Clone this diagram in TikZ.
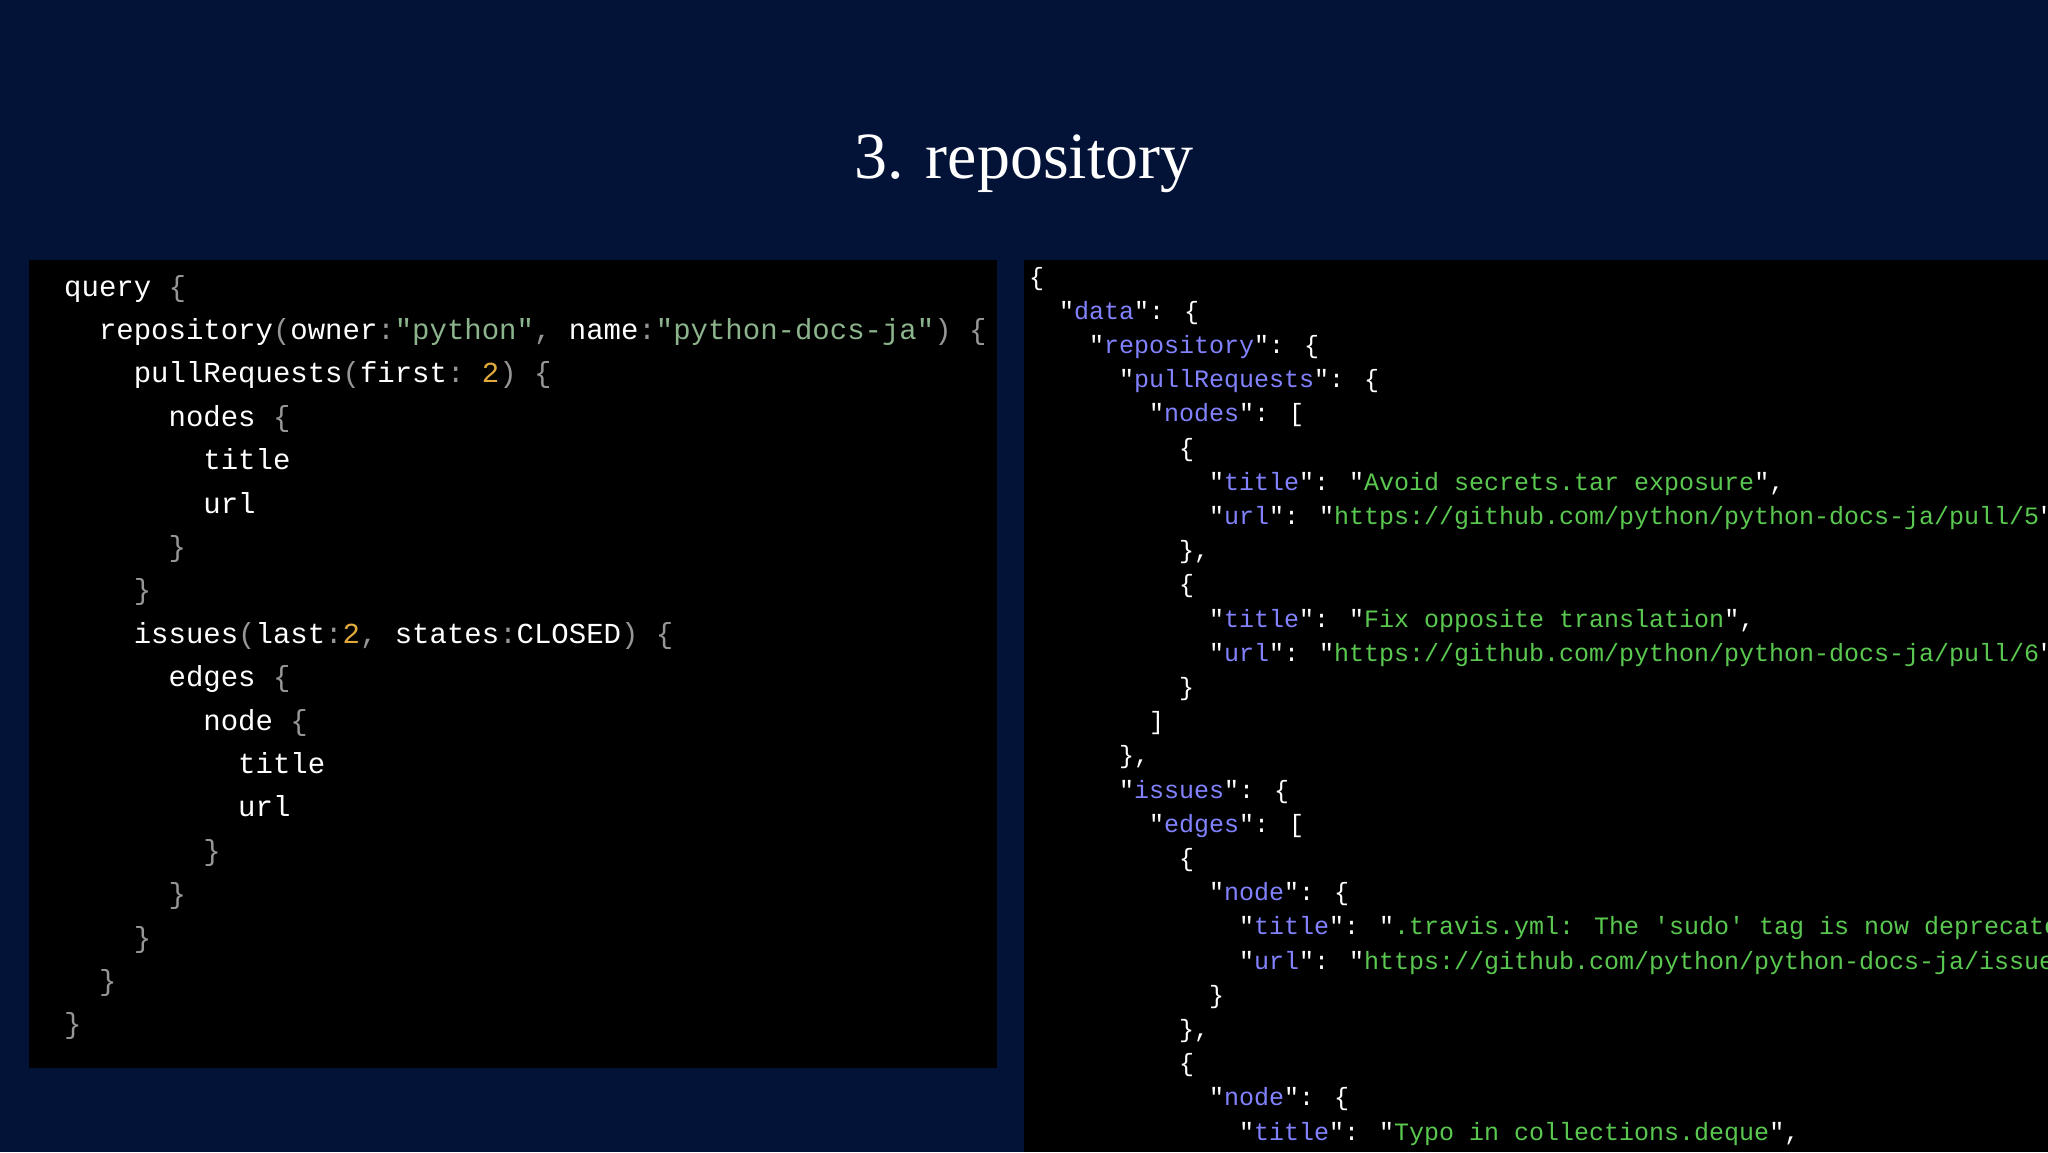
\documentclass[tikz,border=0pt]{standalone}
\usepackage{fontspec}
\setmainfont{Liberation Serif}
\newfontfamily\codefont{Liberation Mono}
\definecolor{slidebg}{RGB}{3, 19, 55}
\definecolor{codegrey}{RGB}{150, 150, 150}
\definecolor{qstring}{RGB}{140, 180, 140}
\definecolor{qnumber}{RGB}{225, 170, 60}
\definecolor{jkey}{RGB}{130, 130, 255}
\definecolor{jstring}{RGB}{90, 200, 80}
\usetikzlibrary{positioning}
\tikzset{
  qline/.style={anchor=base west,inner sep=0,text=white,font=\codefont\fontsize{29}{29}\selectfont},
  jline/.style={anchor=base west,inner sep=0,text=white,font=\codefont\fontsize{25}{25}\selectfont},
}
\newcommand{\gr}[1]{\textcolor{codegrey}{#1}}
\newcommand{\qs}[1]{\textcolor{qstring}{#1}}
\newcommand{\qn}[1]{\textcolor{qnumber}{#1}}
\newcommand{\jk}[1]{"\textcolor{jkey}{#1}"}
\newcommand{\js}[1]{"\textcolor{jstring}{#1}"}
\begin{document}
\begin{tikzpicture}[x=1pt,y=-1pt]
        \fill[slidebg] (0,0) rectangle (2048,1152);
        \useasboundingbox (0,0) rectangle (2048,1152);
        \node[text=white,font=\fontsize{66}{66}\selectfont,anchor=base] (title) at (1024,178) {3. repository};

        % query panel
        \fill[black] (29,260) rectangle (997,1068);
        \node[qline] (q0)  at (64,296)       {query \gr{\{}};
        \node[qline] (q1)  at (98.8,339.4)   {repository\gr{(}owner\gr{:}\qs{"python"}\gr{,} name\gr{:}\qs{"python-docs-ja"}\gr{)} \gr{\{}};
        \node[qline] (q2)  at (133.6,382.8)  {pullRequests\gr{(}first\gr{:}\hspace{0.6em}\qn{2}\gr{)} \gr{\{}};
        \node[qline] (q3)  at (168.4,426.2)  {nodes \gr{\{}};
        \node[qline] (q4)  at (203.2,469.6)  {title};
        \node[qline] (q5)  at (203.2,513.0)  {url};
        \node[qline] (q6)  at (168.4,556.4)  {\gr{\}}};
        \node[qline] (q7)  at (133.6,599.8)  {\gr{\}}};
        \node[qline] (q8)  at (133.6,643.2)  {issues\gr{(}last\gr{:}\qn{2}\gr{,} states\gr{:}CLOSED\gr{)} \gr{\{}};
        \node[qline] (q9)  at (168.4,686.6)  {edges \gr{\{}};
        \node[qline] (q10) at (203.2,730.0)  {node \gr{\{}};
        \node[qline] (q11) at (238.0,773.4)  {title};
        \node[qline] (q12) at (238.0,816.8)  {url};
        \node[qline] (q13) at (203.2,860.2)  {\gr{\}}};
        \node[qline] (q14) at (168.4,903.6)  {\gr{\}}};
        \node[qline] (q15) at (133.6,947.0)  {\gr{\}}};
        \node[qline] (q16) at (98.8,990.4)   {\gr{\}}};
        \node[qline] (q17) at (64,1033.8)    {\gr{\}}};

        % result panel
        \fill[black] (1024,260) rectangle (2048,1152);
        \begin{scope}
        \clip (1024,260) rectangle (2048,1152);
        \node[jline] (r0)  at (1029,285)    {\{};
        \node[jline] (r1)  at (1059,319.2)  {\jk{data}: \{};
        \node[jline] (r2)  at (1089,353.4)  {\jk{repository}: \{};
        \node[jline] (r3)  at (1119,387.6)  {\jk{pullRequests}: \{};
        \node[jline] (r4)  at (1149,421.8)  {\jk{nodes}: [};
        \node[jline] (r5)  at (1179,456.0)  {\{};
        \node[jline] (r6)  at (1209,490.2)  {\jk{title}: \js{Avoid secrets.tar exposure},};
        \node[jline] (r7)  at (1209,524.4)  {\jk{url}: \js{https://github.com/python/python-docs-ja/pull/5}};
        \node[jline] (r8)  at (1179,558.6)  {\},};
        \node[jline] (r9)  at (1179,592.8)  {\{};
        \node[jline] (r10) at (1209,627.0)  {\jk{title}: \js{Fix opposite translation},};
        \node[jline] (r11) at (1209,661.2)  {\jk{url}: \js{https://github.com/python/python-docs-ja/pull/6}};
        \node[jline] (r12) at (1179,695.4)  {\}};
        \node[jline] (r13) at (1149,729.6)  {]};
        \node[jline] (r14) at (1119,763.8)  {\},};
        \node[jline] (r15) at (1119,798.0)  {\jk{issues}: \{};
        \node[jline] (r16) at (1149,832.2)  {\jk{edges}: [};
        \node[jline] (r17) at (1179,866.4)  {\{};
        \node[jline] (r18) at (1209,900.6)  {\jk{node}: \{};
        \node[jline] (r19) at (1239,934.8)  {\jk{title}: \js{.travis.yml: The 'sudo' tag is now deprecated},};
        \node[jline] (r20) at (1239,969.0)  {\jk{url}: \js{https://github.com/python/python-docs-ja/issues/1}};
        \node[jline] (r21) at (1209,1003.2) {\}};
        \node[jline] (r22) at (1179,1037.4) {\},};
        \node[jline] (r23) at (1179,1071.6) {\{};
        \node[jline] (r24) at (1209,1105.8) {\jk{node}: \{};
        \node[jline] (r25) at (1239,1140.0) {\jk{title}: \js{Typo in collections.deque},};
        \end{scope}

    \end{tikzpicture}
\end{document}
